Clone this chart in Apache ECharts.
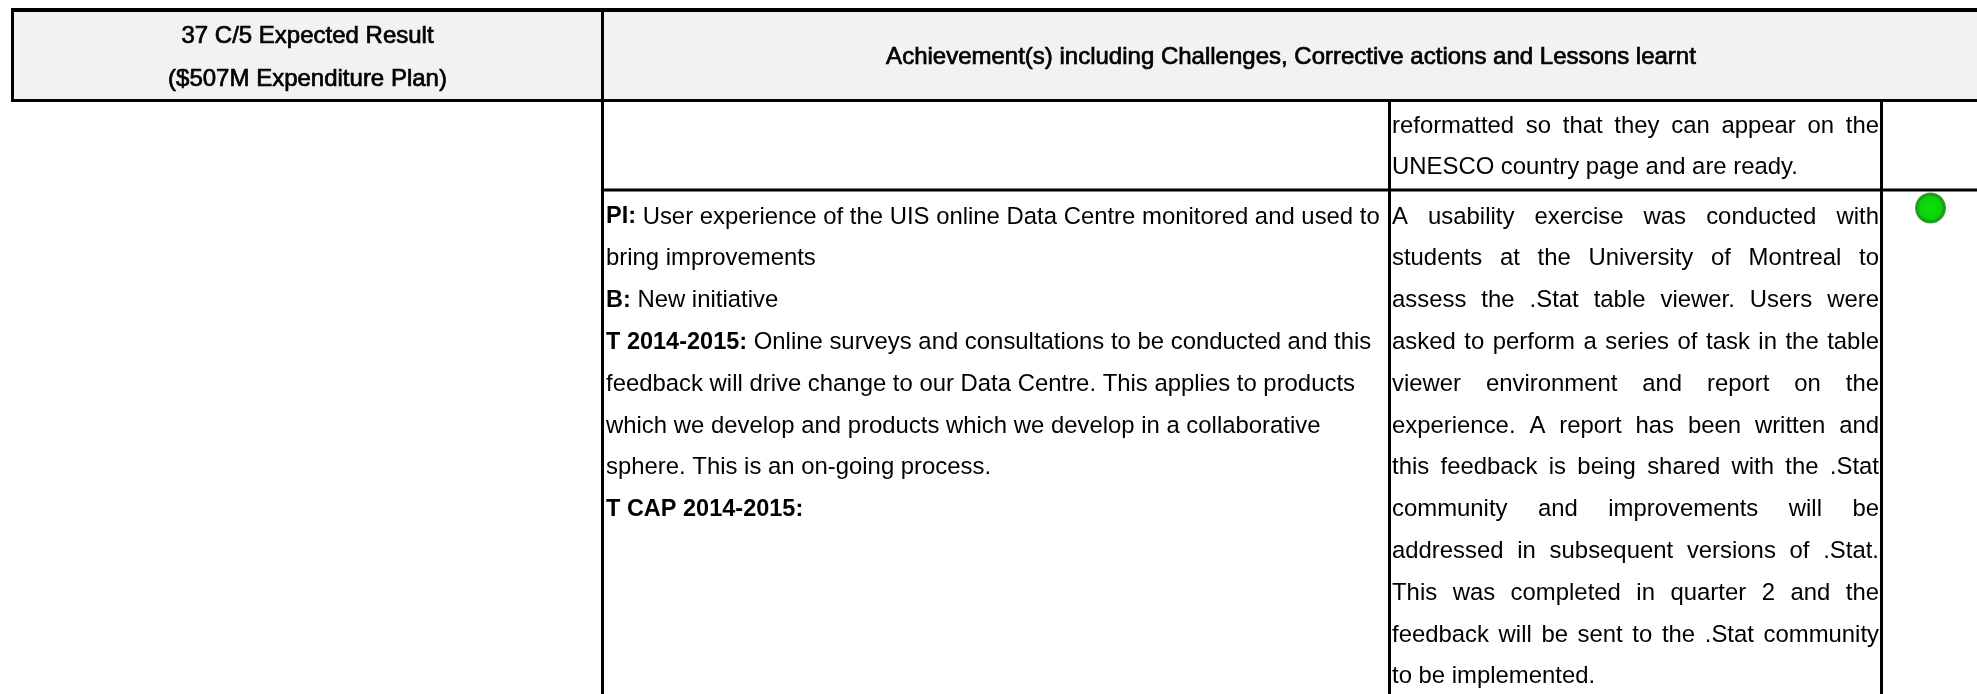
<!DOCTYPE html>
<html>
<head>
<meta charset="utf-8">
<style>
  html, body { margin: 0; padding: 0; background: #fff; }
  #main { width: 1977px; height: 694px; }
</style>
<script src="https://cdn.jsdelivr.net/npm/echarts@6/dist/echarts.min.js"></script>
</head>
<body>
<div id="main"></div>
<script>
const headerLeft = ['37 C/5 Expected Result', '($507M Expenditure Plan)']
const headerRight = ['Achievement(s) including Challenges, Corrective actions and Lessons learnt']
const topRowLines = ['reformatted so that they can appear on the', 'UNESCO country page and are ready.']
const indicatorLines = [
  '{b|PI:} User experience of the UIS online Data Centre monitored and used to',
  'bring improvements',
  '{b|B:} New initiative',
  '{b|T 2014-2015:} Online surveys and consultations to be conducted and this',
  'feedback will drive change to our Data Centre. This applies to products',
  'which we develop and products which we develop in a collaborative',
  'sphere. This is an on-going process.',
  '{b|T CAP 2014-2015:}'
]
const achievementLines = [
  'A usability exercise was conducted with',
  'students at the University of Montreal to',
  'assess the .Stat table viewer. Users were',
  'asked to perform a series of task in the table',
  'viewer environment and report on the',
  'experience. A report has been written and',
  'this feedback is being shared with the .Stat',
  'community and improvements will be',
  'addressed in subsequent versions of .Stat.',
  'This was completed in quarter 2 and the',
  'feedback will be sent to the .Stat community',
  'to be implemented.'
]

const fontFamily = '"Liberation Sans", Arial, sans-serif'
const headSize = 24
const bodySize = 23.9
const boldSize = 23.5
const lineStep = 41.8
const X = { left: 12.5, c1: 602.5, c2: 1389.5, c3: 1881.5, right: 1977 }
const Y = { top: 10, head: 100.5, rule: 190, bottom: 694 }

const measure = document.createElement('canvas').getContext('2d')
measure.font = bodySize + 'px ' + fontFamily

function text(x, y, str, align, heavy) {
  const size = heavy ? headSize : bodySize
  const style = {
    text: str,
    fill: '#000',
    font: size + 'px ' + fontFamily,
    align: align || 'left',
    verticalAlign: 'middle',
    rich: { b: { fontWeight: 'bold', fontSize: boldSize, fontFamily: fontFamily, fill: '#000' } }
  }
  // the header text in the scan looks heavier than the body but keeps regular widths
  if (heavy) {
    style.stroke = '#000'
    style.lineWidth = 0.7
  }
  return { type: 'text', x: x, y: y, silent: true, style: style }
}

function rule(x1, y1, x2, y2, width) {
  return { type: 'line', silent: true, shape: { x1, y1, x2, y2 }, style: { stroke: '#000', lineWidth: width || 3 } }
}

// justified line: spread the words between the two cell edges
function justified(x1, x2, y, line) {
  const words = line.split(' ')
  const used = words.reduce((s, w) => s + measure.measureText(w).width, 0)
  const gap = (x2 - x1 - used) / (words.length - 1)
  let x = x1
  return words.map(w => {
    const el = text(x, y, w)
    x += measure.measureText(w).width + gap
    return el
  })
}

const elements = [
  { type: 'rect', silent: true, shape: { x: X.left, y: Y.top, width: X.right - X.left, height: Y.head - Y.top }, style: { fill: '#f2f2f2' } },
  rule(11, Y.top, X.right, Y.top, 4),
  rule(11, Y.head, X.right, Y.head),
  rule(X.left, Y.top, X.left, Y.head),
  rule(X.c1, Y.top, X.c1, Y.bottom),
  rule(X.c1, Y.rule, X.right, Y.rule),
  rule(X.c2, Y.head, X.c2, Y.bottom),
  rule(X.c3, Y.head, X.c3, Y.bottom),
  text(307.5, 36, headerLeft[0], 'center', true),
  text(307.5, 79, headerLeft[1], 'center', true),
  text(1291, 57, headerRight[0], 'center', true)
]

topRowLines.forEach((line, i) => {
  const y = 126 + i * lineStep
  if (i < topRowLines.length - 1) elements.push(...justified(1392, 1879, y, line))
  else elements.push(text(1392, y, line))
})

indicatorLines.forEach((line, i) => {
  elements.push(text(606, 217 + i * lineStep, line))
})

achievementLines.forEach((line, i) => {
  const y = 217 + i * lineStep
  if (i < achievementLines.length - 1) elements.push(...justified(1392, 1879, y, line))
  else elements.push(text(1392, y, line))
})

// status light, green = on track
elements.push({
  type: 'circle',
  silent: true,
  shape: { cx: 1930.5, cy: 208, r: 15.5 },
  style: {
    fill: new echarts.graphic.RadialGradient(0.5, 0.5, 0.5, [
      { offset: 0, color: '#0ce00c' },
      { offset: 0.72, color: '#0cd00c' },
      { offset: 0.9, color: '#179417' },
      { offset: 1, color: '#5fa85f' }
    ])
  }
})

const chart = echarts.init(document.getElementById('main'), null, { renderer: 'canvas' })
chart.setOption({
  animation: false,
  backgroundColor: '#fff',
  graphic: { elements: elements }
})
</script>
</body>
</html>
